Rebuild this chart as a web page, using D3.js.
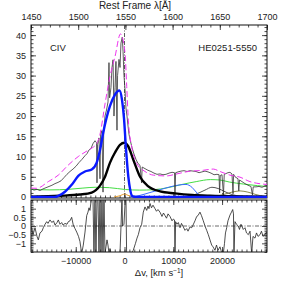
<!DOCTYPE html>
<html>
<head>
<meta charset="utf-8">
<script src="https://cdn.jsdelivr.net/npm/d3@7"></script>
<style>
  body { margin: 0; background: #fff; }
  text { font-family: "Liberation Sans", Arial, sans-serif; fill: #222; }
</style>
</head>
<body>
<svg width="283" height="283"></svg>
<script>
// rest-frame wavelength [A], flux
const spectrum = [
  [1450.0, 2.0], [1453.2, 1.7], [1456.4, 1.9], [1459.5, 1.6], [1462.7, 2.0], [1465.9, 2.3],
  [1469.1, 2.6], [1472.2, 2.9], [1475.4, 3.3], [1478.6, 3.6], [1481.8, 4.0], [1485.0, 4.8],
  [1488.1, 5.6], [1491.3, 6.3], [1494.5, 6.9], [1497.7, 7.6], [1500.8, 8.5], [1504.0, 9.3],
  [1507.2, 10.2], [1509.3, 10.7], [1511.4, 11.6], [1513.6, 12.0], [1515.7, 13.2], [1517.8, 13.9],
  [1519.4, 13.4], [1519.9, 3.5], [1520.5, 13.0], [1522.0, 14.6], [1523.1, 4.5], [1523.7, 15.5],
  [1525.2, 16.4], [1526.3, 1.2], [1527.0, 16.0], [1528.4, 20.0], [1530.0, 21.5], [1531.6, 23.5],
  [1532.6, 33.2], [1533.3, 24.5], [1534.7, 27.0], [1535.8, 32.0], [1536.9, 33.9], [1537.9, 20.0],
  [1539.0, 27.0], [1540.0, 33.5], [1541.1, 16.5], [1541.7, 30.0], [1543.2, 34.0], [1544.3, 32.0],
  [1545.3, 38.0], [1546.7, 39.5], [1547.5, 36.0], [1548.5, 30.0], [1549.6, 26.5], [1550.6, 22.0],
  [1551.7, 20.0], [1552.8, 17.5], [1553.8, 15.5], [1554.9, 14.2], [1557.0, 12.2], [1559.1, 10.6],
  [1561.2, 9.3], [1563.3, 8.3], [1565.5, 7.8], [1567.1, 3.5], [1567.8, 7.4], [1570.8, 7.0],
  [1573.9, 6.6], [1577.1, 6.3], [1580.3, 5.9], [1583.5, 5.6], [1586.7, 5.7], [1589.8, 5.5],
  [1593.0, 5.6], [1596.2, 5.9], [1599.4, 6.1], [1602.0, 6.0], [1602.5, 0.2], [1603.2, 6.0],
  [1605.7, 6.2], [1608.9, 6.4], [1612.1, 6.5], [1615.3, 6.3], [1618.4, 6.5], [1621.6, 6.4],
  [1624.8, 6.3], [1628.0, 6.0], [1631.1, 6.2], [1634.3, 6.4], [1637.5, 6.2], [1640.7, 5.9],
  [1643.9, 5.5], [1647.0, 5.6], [1649.2, 5.5], [1649.8, 1.0], [1650.5, 5.3], [1652.3, 5.5],
  [1653.9, 0.5], [1654.7, 5.6], [1656.6, 5.8], [1658.7, 6.0], [1660.8, 6.1], [1662.9, 5.7],
  [1664.0, 0.8], [1664.6, 5.6], [1666.1, 5.0], [1669.3, 4.5], [1670.1, 1.5], [1670.9, 4.2],
  [1673.5, 3.8], [1676.7, 3.3], [1679.9, 2.9], [1683.0, 2.6], [1684.6, 0.5], [1685.4, 2.5],
  [1688.3, 2.5], [1691.5, 2.6], [1694.7, 2.4], [1697.9, 2.7], [1700.0, 2.6]
];

const totalModel = [
  [1450.0, 2.2], [1456.0, 2.15], [1468.3, 3.8], [1478.9, 5.4], [1489.5, 7.9], [1500.1, 10.0],
  [1510.7, 11.6], [1519.6, 13.2], [1523.1, 15.5], [1528.4, 23.0], [1533.7, 29.8], [1539.0, 34.7],
  [1544.8, 40.3], [1549.6, 35.6], [1551.4, 27.3], [1553.1, 19.0], [1556.7, 12.4], [1562.0, 8.3],
  [1570.8, 6.3], [1579.6, 5.4], [1593.7, 5.2], [1602.5, 5.6], [1616.6, 6.3], [1632.5, 6.6],
  [1643.1, 6.9], [1650.2, 6.3], [1660.8, 5.4], [1671.4, 4.9], [1682.0, 3.8], [1689.1, 3.4],
  [1700.0, 3.1]
];

const broadBlue = [
  [1450.0, 0], [1475.4, 0], [1478.9, 0.25], [1486.0, 1.3], [1493.1, 3.0], [1500.1, 5.2],
  [1507.2, 6.3], [1514.3, 6.8], [1519.6, 8.5], [1523.1, 11.6], [1526.6, 16.0], [1533.7, 22.5],
  [1539.0, 25.3], [1543.7, 26.3], [1546.4, 24.0], [1548.5, 19.5], [1550.6, 12.0], [1553.1, 5.0],
  [1554.9, 2.0], [1557.0, 0.3], [1560.2, 0], [1700.0, 0]
];

const coreBlack = [
  [1450.0, 0.1], [1480.7, 0.3], [1501.9, 0.6], [1514.3, 1.1], [1523.1, 2.8], [1528.4, 5.0],
  [1533.7, 8.5], [1539.0, 11.0], [1544.3, 12.9], [1549.0, 13.4], [1552.8, 12.6], [1558.4, 9.2],
  [1565.5, 5.0], [1573.9, 2.7], [1586.7, 1.4], [1602.5, 0.9], [1620.5, 0.5], [1639.6, 0.3],
  [1671.4, 0.15], [1700.0, 0.1]
];

const contGreen = [
  [1450, 1.9], [1470, 1.75], [1490, 1.9], [1505, 2.2], [1518, 2.4], [1533, 2.3], [1550, 1.85],
  [1565, 1.7], [1580, 1.8], [1595, 2.3], [1610, 3.1], [1625, 3.8], [1640, 4.3], [1650, 4.2],
  [1660, 3.7], [1675, 3.2], [1690, 2.8], [1700, 2.6]
];

const thinBlue = [
  [1554.9, 0], [1565.5, 0.4], [1576.0, 1.1], [1586.7, 1.8], [1597.2, 2.5], [1607.8, 3.0],
  [1614.2, 3.1], [1620.5, 2.4], [1625.8, 1.0], [1631.1, 0.1], [1634.3, 0]
];

const grayBump = [
  [1613.1, 0], [1623.7, 0.6], [1634.3, 1.7], [1641.7, 2.4], [1648.1, 2.1], [1655.5, 1.3],
  [1662.9, 0.6], [1673.5, 0.15], [1682.0, 0]
];

const oliveBump = [
  [1641.7, 0], [1652.3, 0.5], [1662.9, 1.2], [1671.4, 1.5], [1679.8, 1.2], [1688.3, 0.6],
  [1696.8, 0.15], [1700.0, 0.05]
];

const orangeBump = [[1538, 0], [1544, 0.3], [1549, 0.7], [1554, 0.3], [1560, 0]];

// velocity [km/s], residual
const residuals = [
  [-19170, 0.0], [-18760, -0.5], [-18350, -0.1], [-17940, -0.6], [-17670, -0.8], [-17330, -0.4],
  [-16920, -0.3], [-16650, -0.1], [-16300, 0.1], [-15950, 0.25], [-15690, 0.15], [-15280, 0.35],
  [-14870, 0.2], [-14560, 0.3], [-14250, 0.05], [-13840, 0.2], [-13570, 0.35], [-13230, 0.1],
  [-12880, 0.2], [-12610, 0.05], [-12200, 0.15], [-11790, 0.1], [-11520, 0.25], [-11170, 0.3],
  [-10830, 0.5], [-10500, 0.05], [-10150, -0.15], [-9800, -0.35], [-9430, -0.6], [-9130, -0.9],
  [-8780, -1.6], [-8450, -1.1], [-8100, -0.35], [-7750, 0.6], [-7490, 0.8], [-7280, 1.05],
  [-7080, 0.9], [-6870, 1.4], [-6670, 1.6], [-6460, 1.6], [-6260, -1.6], [-6050, 1.6],
  [-5850, -1.6], [-5640, 1.6], [-5440, 1.6], [-5230, -1.6], [-5030, 1.6], [-4820, -1.6],
  [-4620, 1.6], [-4410, -1.6], [-4210, 1.6], [-4000, -1.6], [-3800, -1.2], [-3590, -0.8],
  [-3390, -1.1], [-3180, -1.6], [-2980, -1.3], [-2770, -1.6], [-2360, -1.6], [-1750, -1.6],
  [-1340, -1.6], [-930, -1.6], [-720, 0.0], [-520, 1.6], [-400, 0.0], [-110, 0.1], [160, 1.6],
  [300, 1.6], [430, -1.6], [710, -1.6], [1330, -1.6], [1800, -1.4], [2250, -1.0], [2560, -0.7],
  [2830, -0.5], [3180, -0.1], [3520, 0.1], [3850, 0.8], [4200, 1.1], [4550, 0.9], [4810, 1.15],
  [5020, 1.0], [5220, 1.3], [5530, 1.05], [5840, 1.2], [6250, 1.0], [6560, 0.85], [6860, 0.95],
  [7270, 0.8], [7680, 0.55], [7990, 0.75], [8300, 0.6], [8610, 0.45], [8920, 0.7], [9330, 0.55],
  [9740, 0.3], [10000, 0.4], [10250, 0.35], [10350, -1.6], [10470, 0.25], [10760, 0.1],
  [11030, 0.2], [11380, -0.1], [11680, 0.15], [12050, -0.05], [12400, -0.25], [12750, -0.15],
  [13020, -0.3], [13430, -0.05], [13770, -0.1], [14040, 0.05], [14450, 0.3], [14800, 0.55],
  [15060, 0.6], [15470, 0.8], [15780, 0.6], [16150, 0.3], [16500, 0.0], [16850, -0.25],
  [17180, -0.5], [17520, -0.8], [17870, -1.1], [18140, -1.2], [18550, -1.4], [18860, -1.1],
  [19160, -1.4], [19570, -1.2], [19780, -1.4], [19980, -1.6], [20250, -1.6], [20500, -1.0],
  [20700, -0.4], [20950, -0.1], [21210, 0.3], [21620, 0.63], [21930, 0.8], [22180, 0.95],
  [22340, 0.7], [22440, -1.6], [22650, 0.25], [22950, 0.1], [23320, 0.0], [23570, -0.2],
  [23880, 0.1], [24350, -0.2], [24700, -0.1], [25010, -0.4], [25380, -0.5], [25730, -0.3],
  [26070, -1.6], [26340, -0.6], [26750, -0.7], [27060, -0.4], [27370, -0.6], [27780, -0.5],
  [28080, -0.3], [28390, -0.6], [28800, -0.5], [29100, -0.35], [29210, -0.4]
];

const waveTicks = [1450, 1500, 1550, 1600, 1650, 1700];
const fluxTicks = [0, 5, 10, 15, 20, 25, 30, 35, 40];
const velTicks = [-10000, 0, 10000, 20000];
const resTicks = [-1, -0.5, 0, 0.5, 1];

const lineCenter = 1549.06;
const cLight = 299792.458;

const svg = d3.select('svg'),
  left = 31,
  right = 267;

const x = d3.scaleLinear().domain([1450, 1700]).range([left, right]);
const v = d3
  .scaleLinear()
  .domain([(1450 / lineCenter - 1) * cLight, (1700 / lineCenter - 1) * cLight])
  .range([left, right]);
const y = d3.scaleLinear().domain([-0.25, 42.5]).range([198, 25]);
const yr = d3.scaleLinear().domain([-1.5, 1.5]).range([252, 200]);

const fmt = (d) => (d < 0 ? '\u2212' + Math.abs(d) : '' + d);

// clip regions
const defs = svg.append('defs');
defs.append('clipPath').attr('id', 'clipTop')
  .append('rect').attr('x', left).attr('y', 25).attr('width', right - left).attr('height', 173);
defs.append('clipPath').attr('id', 'clipBot')
  .append('rect').attr('x', left).attr('y', 200).attr('width', right - left).attr('height', 52);

// axes helper
function drawAxis(axisFn, scale, at, major, minor, label, pad) {
  const g = svg.append('g').attr('transform', at);
  g.call(axisFn(scale).tickValues(minor).tickSize(-2.5).tickFormat(''));
  const gm = svg.append('g').attr('transform', at);
  gm.call(axisFn(scale).tickValues(major).tickSize(-5).tickPadding(pad)
    .tickFormat(label ? fmt : ''));
  [g, gm].forEach((s) => {
    s.select('.domain').remove();
    s.selectAll('line').attr('stroke', '#222').attr('stroke-width', 0.8);
    s.selectAll('text').attr('font-size', '9px').attr('fill', '#222');
  });
}

const minorWave = d3.range(1450, 1701, 10);
const minorFlux = d3.range(0, 43, 1);
const minorVel = d3.range(-19000, 29500, 1000);
const minorRes = d3.range(-1.5, 1.51, 0.1).map((d) => +d.toFixed(1));

// top panel axes
drawAxis(d3.axisTop, x, 'translate(0,25)', waveTicks, minorWave, true, 5.5);
drawAxis(d3.axisBottom, v, 'translate(0,198)', velTicks, minorVel, false, 3);
drawAxis(d3.axisLeft, y, `translate(${left},0)`, fluxTicks, minorFlux, true, 5);
drawAxis(d3.axisRight, y, `translate(${right},0)`, fluxTicks, minorFlux, false, 3);

// bottom panel axes
drawAxis(d3.axisTop, v, 'translate(0,200)', velTicks, minorVel, false, 3);
drawAxis(d3.axisBottom, v, 'translate(0,252)', velTicks, minorVel, true, 6);
drawAxis(d3.axisLeft, yr, `translate(${left},0)`, resTicks, minorRes, true, 5);
drawAxis(d3.axisRight, yr, `translate(${right},0)`, resTicks, minorRes, false, 3);

// frames
svg.append('rect').attr('x', left).attr('y', 25).attr('width', right - left).attr('height', 173)
  .attr('fill', 'none').attr('stroke', '#111').attr('stroke-width', 1);
svg.append('rect').attr('x', left).attr('y', 200).attr('width', right - left).attr('height', 52)
  .attr('fill', 'none').attr('stroke', '#111').attr('stroke-width', 1);

// top panel curves
const gTop = svg.append('g').attr('clip-path', 'url(#clipTop)');
const lineW = d3.line().x((d) => x(d[0])).y((d) => y(d[1]));
const smooth = d3.line().x((d) => x(d[0])).y((d) => y(d[1])).curve(d3.curveMonotoneX);

gTop.append('line')
  .attr('x1', x(lineCenter)).attr('x2', x(lineCenter))
  .attr('y1', y(0)).attr('y2', 25)
  .attr('stroke', '#333').attr('stroke-width', 0.8).attr('stroke-dasharray', '4,1.5,1,1.5');

gTop.append('path').datum(contGreen).attr('d', smooth)
  .attr('fill', 'none').attr('stroke', '#44dd44').attr('stroke-width', 1);
gTop.append('path').datum(orangeBump).attr('d', smooth)
  .attr('fill', 'none').attr('stroke', '#e8a030').attr('stroke-width', 1);
gTop.append('path').datum(oliveBump).attr('d', smooth)
  .attr('fill', 'none').attr('stroke', '#8a8a4a').attr('stroke-width', 1);
gTop.append('path').datum(grayBump).attr('d', smooth)
  .attr('fill', 'none').attr('stroke', '#555').attr('stroke-width', 1);
gTop.append('path').datum(thinBlue).attr('d', smooth)
  .attr('fill', 'none').attr('stroke', '#3a6cff').attr('stroke-width', 1);
gTop.append('path').datum(spectrum).attr('d', lineW)
  .attr('fill', 'none').attr('stroke', '#333').attr('stroke-width', 0.8);
gTop.append('path').datum(coreBlack).attr('d', smooth)
  .attr('fill', 'none').attr('stroke', '#000').attr('stroke-width', 2.4);
gTop.append('path').datum(broadBlue).attr('d', smooth)
  .attr('fill', 'none').attr('stroke', '#0a1aff').attr('stroke-width', 2.4);
gTop.append('path').datum(totalModel).attr('d', smooth)
  .attr('fill', 'none').attr('stroke', '#ee33ee').attr('stroke-width', 1)
  .attr('stroke-dasharray', '6,3');

// bottom panel
const gBot = svg.append('g').attr('clip-path', 'url(#clipBot)');
gBot.append('line').attr('x1', left).attr('x2', right).attr('y1', yr(0)).attr('y2', yr(0))
  .attr('stroke', '#444').attr('stroke-width', 0.8).attr('stroke-dasharray', '4,1.5,1,1.5');
gBot.append('path').datum(residuals)
  .attr('d', d3.line().x((d) => v(d[0])).y((d) => yr(d[1])))
  .attr('fill', 'none').attr('stroke', '#222').attr('stroke-width', 0.8);

// labels
svg.append('text').attr('x', 135).attr('y', 9).attr('text-anchor', 'middle')
  .attr('font-size', '10px').text('Rest Frame \u03bb[\u00c5]');
svg.append('text').attr('x', 50).attr('y', 51).attr('font-size', '9.5px').text('CIV');
svg.append('text').attr('x', 257).attr('y', 51).attr('text-anchor', 'end')
  .attr('font-size', '9.5px').text('HE0251-5550');

const xl = svg.append('text').attr('x', 159).attr('y', 276).attr('text-anchor', 'middle')
  .attr('font-size', '9.5px');
xl.append('tspan').text('\u0394v, [km s');
xl.append('tspan').attr('dy', -3.5).attr('font-size', '6.5px').text('\u22121');
xl.append('tspan').attr('dy', 3.5).text(']');
</script>
</body>
</html>
